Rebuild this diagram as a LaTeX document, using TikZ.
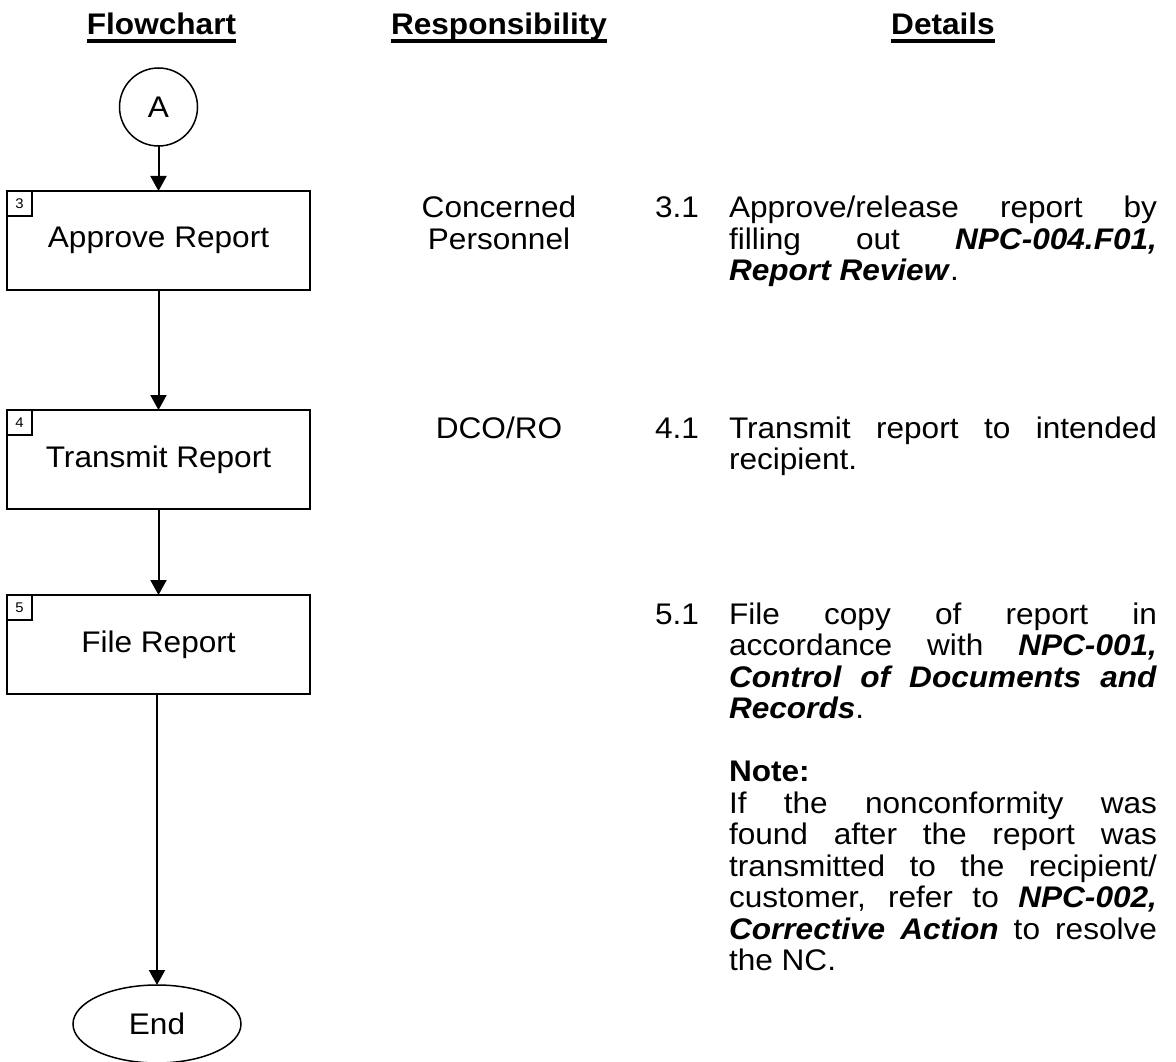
\documentclass[tikz,border=0pt]{standalone}
\usepackage{fontspec}
\setmainfont{Liberation Sans}[FakeStretch=1.06]
\usetikzlibrary{arrows.meta,shapes.geometric}
\newcommand{\bi}[1]{\textbf{\textit{#1}}}
\hyphenpenalty=10000
\exhyphenpenalty=10000
\begin{document}
\begin{tikzpicture}[x=1pt,y=-1pt,
 every node/.style={inner sep=0pt, outer sep=0pt},
 txt/.style={font=\fontsize{29.8}{31.5}\selectfont},
 stepbox/.style={draw, line width=2pt, minimum width=303pt, minimum height=99pt, txt},
 numbox/.style={draw, line width=1.2pt, minimum size=25pt, font=\fontsize{14}{16}\selectfont, anchor=north west},
 arr/.style={line width=2pt, -{Triangle[width=16pt,length=15pt]}},
 hdr/.style={font=\fontsize{29.8}{31.5}\selectfont\bfseries, anchor=base},
 uline/.style={line width=3.2pt},
 para/.style={txt, text width=428pt, align=justify, anchor=base west},
 num/.style={txt, anchor=base west},
 resp/.style={txt, text width=200pt, align=center, anchor=base}
]
\useasboundingbox (0,0) rectangle (1176,1062);
\fill[white] (0,0) rectangle (1176,1062);

% headers
\node[hdr] (h1) at (161.5,35) {Flowchart};
\node[hdr] (h2) at (499,35) {Responsibility};
\node[hdr] (h3) at (943,35) {Details};
\draw[uline] ([yshift=-6pt]h1.base west) -- ([yshift=-6pt]h1.base east);
\draw[uline] ([yshift=-6pt]h2.base west) -- ([yshift=-6pt]h2.base east);
\draw[uline] ([yshift=-6pt]h3.base west) -- ([yshift=-6pt]h3.base east);

% flowchart
\node[draw, circle, line width=1.5pt, minimum size=78pt, txt] (A) at (158.5,107) {A};
\node[stepbox] (s3) at (158.5,240.5) {Approve Report};
\node[numbox] (n3) at (s3.north west) {3};
\node[stepbox] (s4) at (158.5,459.5) {Transmit Report};
\node[numbox] (n4) at (s4.north west) {4};
\node[stepbox] (s5) at (158.5,644.5) {File Report};
\node[numbox] (n5) at (s5.north west) {5};
\node[draw, ellipse, line width=1.5pt, minimum width=168pt, minimum height=78pt, txt] (E) at (157,1024) {End};

\draw[arr] (A) -- (s3);
\draw[arr] (s3) -- (s4);
\draw[arr] (s4) -- (s5);
\draw[arr] (s5.south -| E.north) -- (E.north);

% responsibility
\node[resp] (r3) at (499,218) {Concerned\\Personnel};
\node[resp] (r4) at (499,438) {DCO/RO};

% details
\node[num] (d3n) at (655,218) {3.1};
\node[para] (d3) at (729,218) {Approve/release report by\linebreak filling out \bi{NPC-004.F01,}\linebreak \bi{Report Review}.};
\node[num] (d4n) at (655,438) {4.1};
\node[para] (d4) at (729,438) {Transmit report to intended\linebreak recipient.};
\node[num] (d5n) at (655,624) {5.1};
\node[para] (d5) at (729,624) {File copy of report in\linebreak accordance with \bi{NPC-001,}\linebreak \bi{Control of Documents and}\linebreak \bi{Records}.\par\vspace{31.5pt}\textbf{Note:}\par If the nonconformity was\linebreak found after the report was\linebreak transmitted to the recipient/\linebreak customer, refer to \bi{NPC-002,}\linebreak \bi{Corrective Action} to resolve\linebreak the NC.};
\end{tikzpicture}
\end{document}
